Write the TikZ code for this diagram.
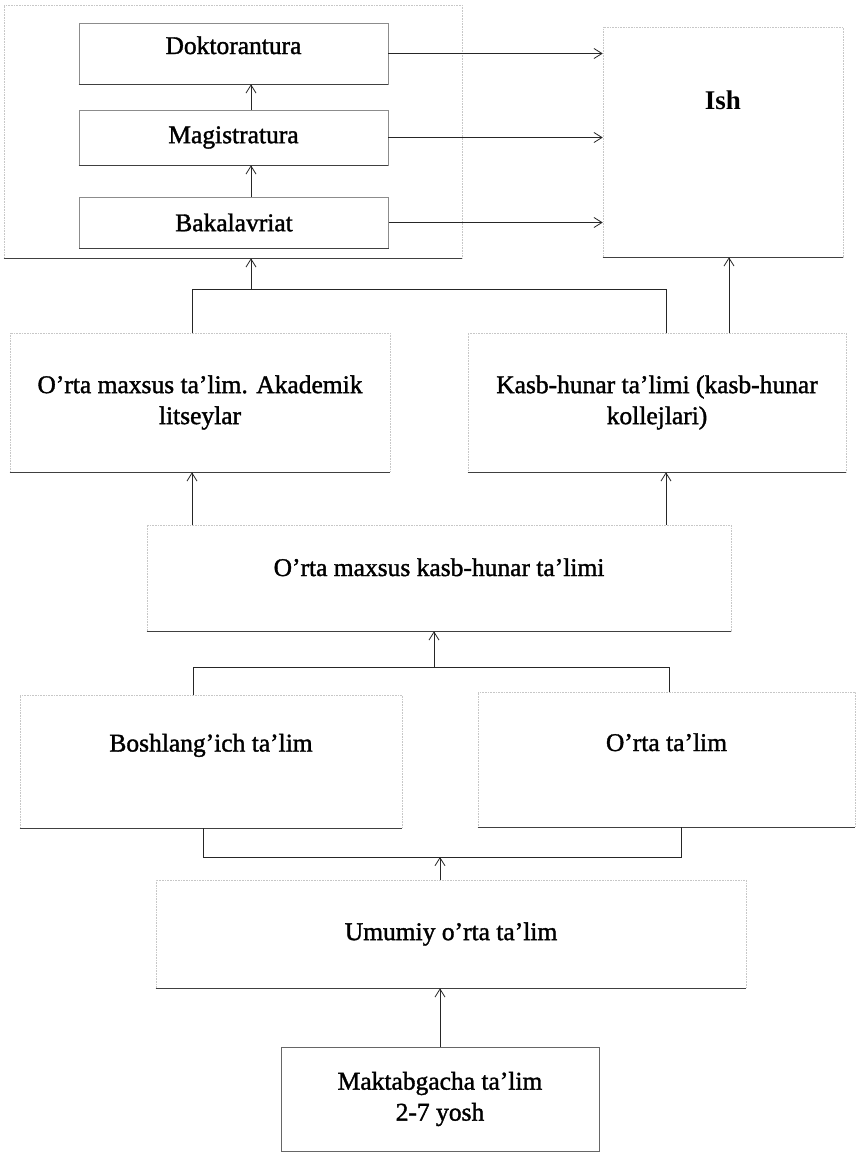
\documentclass[tikz,border=0pt]{standalone}
\usepackage{fontspec}
\setmainfont{Liberation Serif}
\newfontfamily\scanfont{Liberation Serif}[FakeBold=1.4]
\usetikzlibrary{arrows.meta}
\begin{document}
\begin{tikzpicture}[x=1pt,y=-1pt,
  every node/.style={font=\scanfont\fontsize{25.5}{31}\selectfont, align=center, inner sep=0pt},
  box/.style={draw=black!45, line width=0.6pt},
  faint/.style={draw=black!22, densely dotted, line width=0.6pt},
  baseln/.style={draw=black!75, line width=1.2pt},
  lift/.style={text height=18pt, text depth=#1},
  link/.style={draw=black!85, line width=0.8pt},
  conn/.style={link, -{Straight Barb[length=8pt,width=10pt]}}]
\useasboundingbox[fill=white] (0,0) rectangle (856,1154);
% top group
\node[faint, minimum width=458pt, minimum height=253pt] (topgrp) at (233,131.5) {};
\node[box, minimum width=309pt, minimum height=61pt, lift=17pt] (dok) at (233.5,53.5) {Doktorantura};
\node[box, minimum width=309pt, minimum height=55pt] (mag) at (233.5,137.5) {Magistratura};
\node[box, minimum width=309pt, minimum height=51pt] (bak) at (234,222.5) {Bakalavriat};
\node[faint, minimum width=240pt, minimum height=230pt, lift=84pt, font=\fontsize{27}{31}\selectfont\bfseries] (ish) at (723,142) {Ish};
% middle
\node[faint, minimum width=380pt, minimum height=139pt] (aka) at (200,402.5) {O’rta maxsus ta’lim. Akademik\\litseylar};
\node[faint, minimum width=378pt, minimum height=139pt] (kh) at (657,402.5) {Kasb-hunar ta’limi (kasb-hunar\\kollejlari)};
\node[faint, minimum width=584pt, minimum height=106pt, lift=22pt] (omk) at (439,578) {O’rta maxsus kasb-hunar ta’limi};
\node[faint, minimum width=382pt, minimum height=133pt, lift=38pt] (bosh) at (211,761.5) {Boshlang’ich ta’lim};
\node[faint, minimum width=377pt, minimum height=135pt, lift=35pt] (orta) at (666.5,759.5) {O’rta ta’lim};
\node[faint, minimum width=590pt, minimum height=108pt] (umu) at (451,934) {Umumiy o’rta ta’lim};
\node[box, draw=black!60, minimum width=318pt, minimum height=104pt] (mak) at (440,1099) {Maktabgacha ta’lim\\2-7 yosh};
% dark bottom edges
\foreach \n in {topgrp,dok,mag,bak,ish,aka,kh,omk,bosh,orta,umu}
  \draw[baseln] (\n.south west) -- (\n.south east);
% helper coordinates
\coordinate (ax) at (251,0);
\coordinate (ix) at (729,0);
\coordinate (c1) at (192,289);
\coordinate (c2) at (666,289);
\coordinate (b1) at (193,667);
\coordinate (b2) at (669,667);
\coordinate (mx) at (434,0);
\coordinate (l1) at (203,857);
\coordinate (l2) at (681,857);
\coordinate (ux) at (440,0);
% top stack
\draw[conn] (mag.north -| ax) -- (dok.south -| ax);
\draw[conn] (bak.north -| ax) -- (mag.south -| ax);
\draw[conn] (dok.east) -- (dok.east -| ish.west);
\draw[conn] (mag.east) -- (mag.east -| ish.west);
\draw[conn] (bak.east) -- (bak.east -| ish.west);
% to top group and Ish
\draw[link] (aka.north -| c1) -- (c1) -- (c2) -- (kh.north -| c2);
\draw[conn] (c1 -| ax) -- (topgrp.south -| ax);
\draw[conn] (kh.north -| ix) -- (ish.south -| ix);
% omk to upper boxes
\draw[conn] (omk.north -| c1) -- (aka.south -| c1);
\draw[conn] (omk.north -| c2) -- (kh.south -| c2);
% upper bracket
\draw[link] (bosh.north -| b1) -- (b1) -- (b2) -- (orta.north -| b2);
\draw[conn] (b1 -| mx) -- (omk.south -| mx);
% lower bracket
\draw[link] (bosh.south -| l1) -- (l1) -- (l2) -- (orta.south -| l2);
\draw[conn] (umu.north -| ux) -- (l1 -| ux);
\draw[conn] (mak.north -| ux) -- (umu.south -| ux);
\end{tikzpicture}
\end{document}
